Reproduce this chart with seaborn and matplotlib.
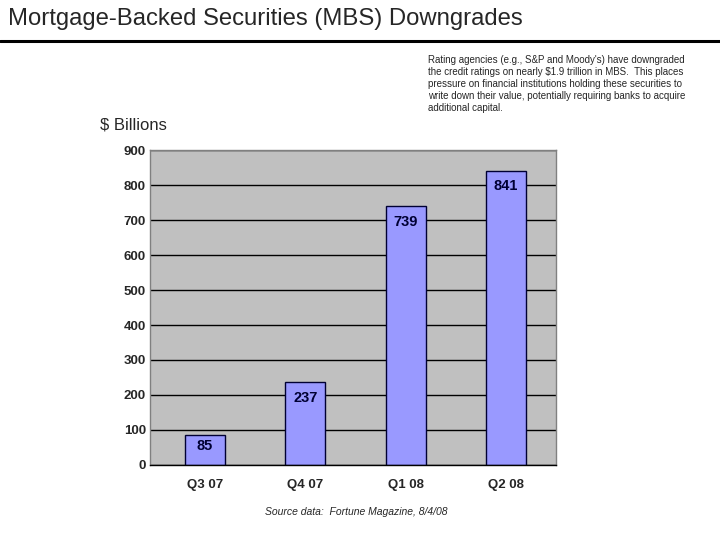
import matplotlib
matplotlib.use("Agg")
import matplotlib.pyplot as plt
import pandas as pd
import seaborn as sns

quarters = ["Q3 07", "Q4 07", "Q1 08", "Q2 08"]
downgrades = [85, 237, 739, 841]
y_ticks = [0, 100, 200, 300, 400, 500, 600, 700, 800, 900]

note = ("Rating agencies (e.g., S&P and Moody's) have downgraded\n"
        "the credit ratings on nearly $1.9 trillion in MBS.  This places\n"
        "pressure on financial institutions holding these securities to\n"
        "write down their value, potentially requiring banks to acquire\n"
        "additional capital.")


def main():
    sns.set_style("white")
    plt.rcParams["font.family"] = ["Liberation Sans", "DejaVu Sans"]

    df = pd.DataFrame({"quarter": quarters, "value": downgrades})

    fig = plt.figure(figsize=(7.2, 5.4), dpi=100)
    ax = fig.add_axes([0.2083, 0.1389, 0.5639, 0.5833])
    ax.set_facecolor("#C0C0C0")
    ax.set_axisbelow(True)
    ax.yaxis.grid(True, color="black", linewidth=1.0)

    sns.barplot(data=df, x="quarter", y="value", color="#9999FF", saturation=1,
                width=0.4, edgecolor="#000033", linewidth=1.0, ax=ax)

    # value labels sit inside the top of each bar (short bars: lower third)
    for i, v in enumerate(downgrades):
        ax.text(i, v - min(45, v * 0.35), str(v), ha="center", va="center",
                fontsize=10.5, fontweight="bold", color="#000033")

    ax.set_ylim(0, 900)
    ax.set_xlim(-0.55, 3.5)
    ax.set_yticks(y_ticks)
    ax.set_xlabel("")
    ax.set_ylabel("")
    ax.tick_params(axis="y", length=0, labelsize=9.5, pad=3)
    ax.tick_params(axis="x", length=0, labelsize=9.5, pad=10)
    for lab in ax.get_xticklabels() + ax.get_yticklabels():
        lab.set_fontweight("bold")
    for s in ax.spines.values():
        s.set_color("#808080")
        s.set_linewidth(1.0)
    ax.spines["bottom"].set_color("black")

    fig.text(0.011, 0.964, "Mortgage-Backed Securities (MBS) Downgrades",
             fontsize=17.2, va="center", ha="left")
    fig.add_artist(plt.Line2D([0, 1], [0.924, 0.924], color="black", linewidth=2.2))
    fig.text(0.594, 0.898, note, fontsize=7.05, va="top", ha="left",
             linespacing=1.25)
    fig.text(0.139, 0.768, "$ Billions", fontsize=12, va="center", ha="left")
    fig.text(0.495, 0.051, "Source data:  Fortune Magazine, 8/4/08", fontsize=7.5,
             style="italic", va="center", ha="center")

    fig.savefig("out.png", dpi=100)


if __name__ == "__main__":
    main()
